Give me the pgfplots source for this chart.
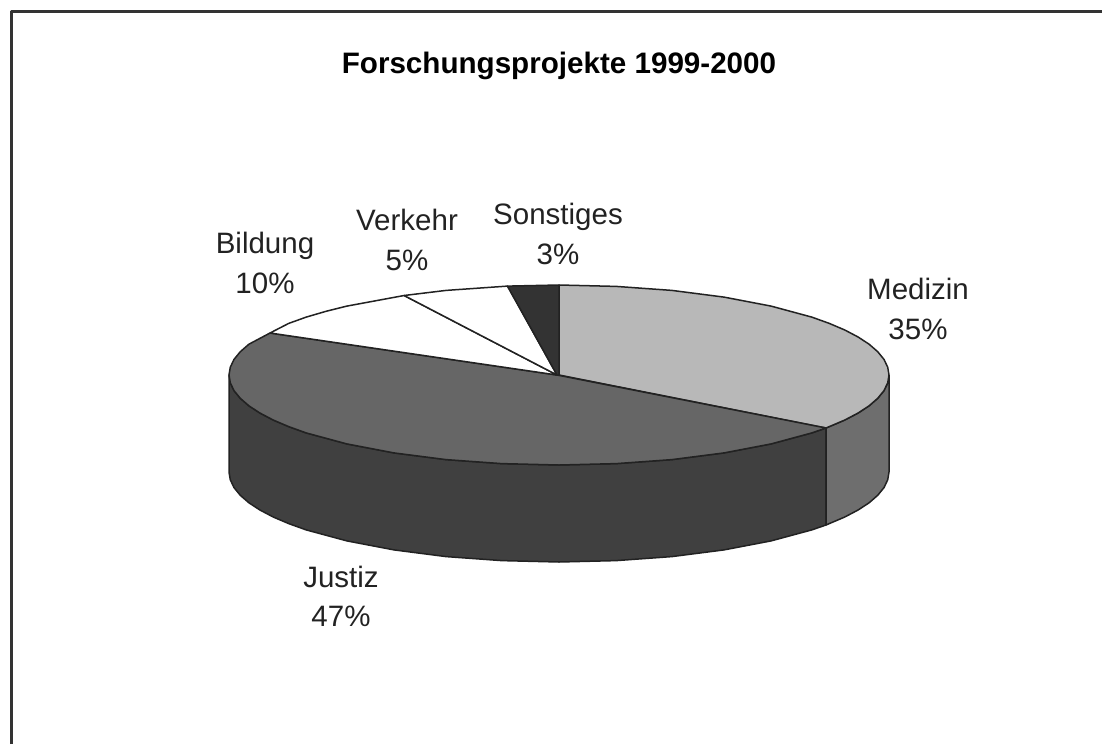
\documentclass[border=0pt]{standalone}
\usepackage{pgfplots}
\pgfplotsset{compat=1.18}
\usepackage{fontspec}
\setmainfont{Liberation Sans}
\definecolor{medtop}{HTML}{B8B8B8}
\definecolor{medside}{HTML}{6E6E6E}
\definecolor{justop}{HTML}{666666}
\definecolor{jusside}{HTML}{404040}
\definecolor{sonst}{HTML}{333333}
\definecolor{edge}{HTML}{222222}
\begin{document}
\begin{tikzpicture}
\path[use as bounding box] (0,0) rectangle (1102pt,744pt);
\begin{axis}[
  at={(0,0)}, anchor=south west,
  scale only axis, width=1102pt, height=744pt,
  xmin=0, xmax=1102, ymin=0, ymax=744, y dir=reverse,
  hide axis,
  every axis plot/.append style={line width=1.5pt, draw=edge, line join=round},
]
% frame
\addplot[draw=black!80, line width=3pt] coordinates {(11,744) (11,11) (1102,11)};
% side walls
\addplot[fill=jusside] coordinates {(826,428) (811.8,432.9) (771.1,443.9) (724,452.9) (671.9,459.6) (616.3,463.6) (559,465) (501.7,463.6) (446.1,459.6) (394,452.9) (346.9,443.9) (306.2,432.9) (288.7,426.6) (273.2,420) (259.9,413) (248.9,405.8) (240.3,398.3) (234,390.6) (230.3,382.8) (229,375)
 (229,472) (230.3,479.8) (234,487.6) (240.3,495.3) (248.9,502.8) (259.9,510) (273.2,517) (288.7,523.6) (306.2,529.9) (346.9,540.9) (394,549.9) (446.1,556.6) (501.7,560.6) (559,562) (616.3,560.6) (671.9,556.6) (724,549.9) (771.1,540.9) (811.8,529.9) (826,525) (826,428)};
\addplot[fill=medside] coordinates {(889,375) (887.7,382.8) (884,390.6) (877.7,398.3) (869.1,405.8) (858.1,413) (844.8,420) (826,428) (826,525) (844.8,517) (858.1,510) (869.1,502.8) (877.7,495.3) (884,487.6) (887.7,479.8) (889,472) (889,375)};
% Medizin
\addplot[fill=medtop] coordinates {(559,375) (559,285) (616.3,286.4) (671.9,290.4) (724,297.1) (771.1,306.1) (811.8,317.1) (829.3,323.4) (844.8,330) (858.1,337) (869.1,344.2) (877.7,351.7) (884,359.4) (887.7,367.2) (889,375) (887.7,382.8) (884,390.6) (877.7,398.3) (869.1,405.8) (858.1,413) (844.8,420) (826,428) (559,375)};
% Justiz
\addplot[fill=justop] coordinates {(557,375) (826,428) (811.8,432.9) (771.1,443.9) (724,452.9) (671.9,459.6) (616.3,463.6) (559,465) (501.7,463.6) (446.1,459.6) (394,452.9) (346.9,443.9) (306.2,432.9) (288.7,426.6) (273.2,420) (259.9,413) (248.9,405.8) (240.3,398.3) (234,390.6) (230.3,382.8) (229,375) (230.3,367.2) (234,359.4) (240.3,351.7) (248.9,344.2) (270,333) (557,375)};
% Bildung
\addplot[fill=white] coordinates {(557,375) (270,333) (288.7,323.4) (306.2,317.1) (325.7,311.4) (346.9,306.1) (404.1,295.5) (557,375)};
% Verkehr
\addplot[fill=white] coordinates {(557,375) (404.1,295.5) (446.1,290.4) (507.5,286.1) (557,375)};
% Sonstiges
\addplot[fill=sonst] coordinates {(557,375) (507.5,286.1) (559,285) (559,375) (557,375)};
% labels
\node[anchor=base, font=\fontsize{29.6}{29.6}\selectfont\bfseries] at (axis cs:559,73) {Forschungsprojekte 1999-2000};
\node[anchor=base, font=\fontsize{29.5}{29.5}\selectfont, text=edge] at (axis cs:918,299) {Medizin};
\node[anchor=base, font=\fontsize{29.5}{29.5}\selectfont, text=edge] at (axis cs:918,339) {35\%};
\node[anchor=base, font=\fontsize{29.5}{29.5}\selectfont, text=edge] at (axis cs:341,587) {Justiz};
\node[anchor=base, font=\fontsize{29.5}{29.5}\selectfont, text=edge] at (axis cs:341,626) {47\%};
\node[anchor=base, font=\fontsize{29.5}{29.5}\selectfont, text=edge] at (axis cs:265,253) {Bildung};
\node[anchor=base, font=\fontsize{29.5}{29.5}\selectfont, text=edge] at (axis cs:265,293) {10\%};
\node[anchor=base, font=\fontsize{29.5}{29.5}\selectfont, text=edge] at (axis cs:407,230) {Verkehr};
\node[anchor=base, font=\fontsize{29.5}{29.5}\selectfont, text=edge] at (axis cs:407,270) {5\%};
\node[anchor=base, font=\fontsize{29.5}{29.5}\selectfont, text=edge] at (axis cs:558,224) {Sonstiges};
\node[anchor=base, font=\fontsize{29.5}{29.5}\selectfont, text=edge] at (axis cs:558,264) {3\%};
\end{axis}
\end{tikzpicture}
\end{document}
